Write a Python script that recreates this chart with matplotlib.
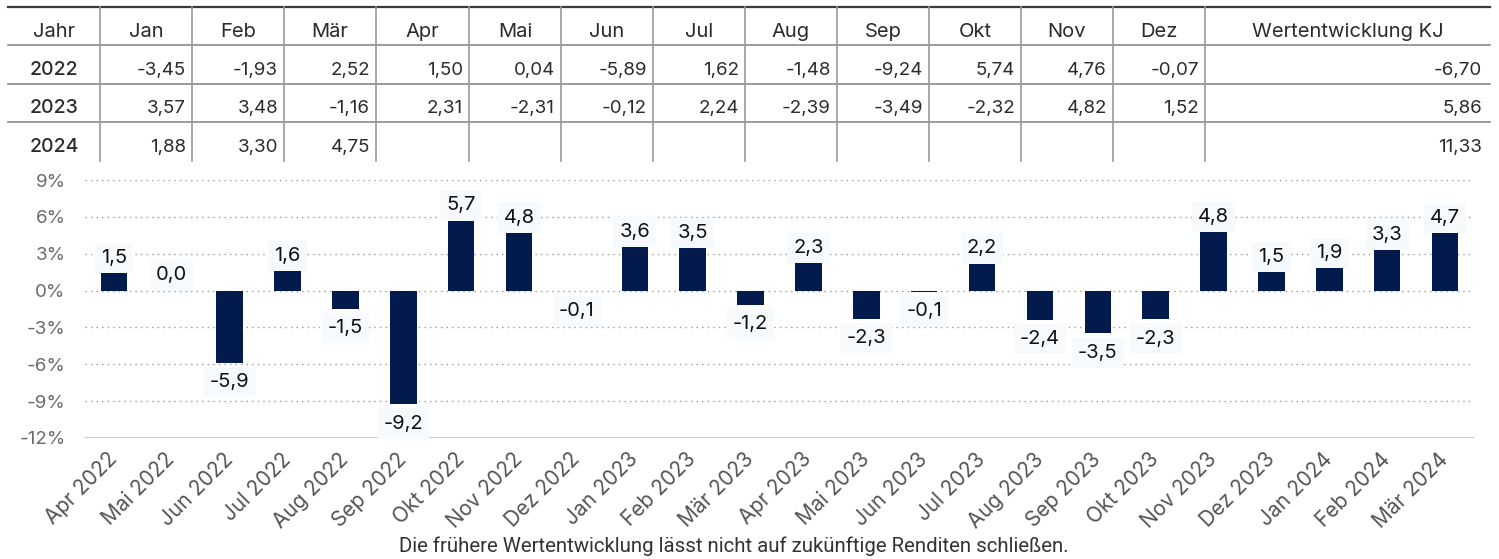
import matplotlib.pyplot as plt
from matplotlib.lines import Line2D

# ---- table data ----
header = ['Jahr', 'Jan', 'Feb', 'Mär', 'Apr', 'Mai', 'Jun', 'Jul', 'Aug', 'Sep',
          'Okt', 'Nov', 'Dez', 'Wertentwicklung KJ']
years = ['2022', '2023', '2024']
r2022 = [-3.45, -1.93, 2.52, 1.50, 0.04, -5.89, 1.62, -1.48, -9.24, 5.74, 4.76, -0.07]
r2023 = [3.57, 3.48, -1.16, 2.31, -2.31, -0.12, 2.24, -2.39, -3.49, -2.32, 4.82, 1.52]
r2024 = [1.88, 3.30, 4.75]
kj = [-6.70, 5.86, 11.33]

# ---- bar chart data ----
months = ['Apr 2022', 'Mai 2022', 'Jun 2022', 'Jul 2022', 'Aug 2022', 'Sep 2022',
          'Okt 2022', 'Nov 2022', 'Dez 2022', 'Jan 2023', 'Feb 2023', 'Mär 2023',
          'Apr 2023', 'Mai 2023', 'Jun 2023', 'Jul 2023', 'Aug 2023', 'Sep 2023',
          'Okt 2023', 'Nov 2023', 'Dez 2023', 'Jan 2024', 'Feb 2024', 'Mär 2024']
perf = [1.50, 0.04, -5.89, 1.62, -1.48, -9.24, 5.74, 4.76, -0.07, 3.57, 3.48, -1.16,
        2.31, -2.31, -0.12, 2.24, -2.39, -3.49, -2.32, 4.82, 1.52, 1.88, 3.30, 4.74]
yticks = [-12, -9, -6, -3, 0, 3, 6, 9]

W, H = 1499, 559
FONT = ['Inter', 'DejaVu Sans']
TXT = '#2b2b2b'
NAVY = '#021a4c'

fig = plt.figure(figsize=(W / 100, H / 100), dpi=100)

# overlay in pixel coordinates for the table and footnote
tab = fig.add_axes([0, 0, 1, 1])
tab.set_xlim(0, W)
tab.set_ylim(H, 0)
tab.axis('off')

vlines = [100, 192, 284, 376, 469, 561, 653, 745, 837, 929, 1021, 1113, 1205]
left, right = 8, 1490
row_lines = [45, 84, 122]
base_y = [37, 75, 113, 152]

tab.add_line(Line2D([left, right], [7, 7], color='#3a3a3a', lw=1.6))
for y in row_lines:
    tab.add_line(Line2D([left, right], [y, y], color='#8a8a8a', lw=1.2))
for x in vlines:
    tab.add_line(Line2D([x, x], [7, 161], color='#9a9a9a', lw=1.2))

edges = [left] + vlines + [right]
for i, h in enumerate(header):
    cx = (edges[i] + edges[i + 1]) / 2
    tab.text(cx, base_y[0], h, ha='center', va='baseline', fontsize=14.5,
             color=TXT, family=FONT)

rows = [r2022, r2023, r2024]
for r, (yr, vals) in enumerate(zip(years, rows)):
    yb = base_y[r + 1]
    tab.text(54, yb, yr, ha='center', va='baseline', fontsize=14,
             color=TXT, family=FONT, fontweight='medium')
    for j, v in enumerate(vals):
        tab.text(vlines[j + 1] - 6, yb, f'{v:.2f}'.replace('.', ','), ha='right',
                 va='baseline', fontsize=13.5, color=TXT, family=FONT)
    tab.text(right - 8, yb, f'{kj[r]:.2f}'.replace('.', ','), ha='right',
             va='baseline', fontsize=13.5, color=TXT, family=FONT)

tab.text(734, 546, 'Die frühere Wertentwicklung lässt nicht auf zukünftige Renditen schließen.',
         ha='center', va='center', fontsize=14.7, color='#333333',
         family=['Liberation Sans Narrow', 'Roboto', 'DejaVu Sans'])

# ---- bar chart ----
ax = fig.add_axes([85 / W, 1 - 438 / H, (1474 - 85) / W, (438 - 180) / H])
x = range(len(months))
ax.bar(x, perf, width=0.46, color=NAVY, zorder=3)

for xi, v in zip(x, perf):
    lbl = f'{v:.1f}'.replace('.', ',')
    if lbl == '-0,0':
        lbl = '0,0'
    off = 10.5 if v >= 0 else -14
    ax.annotate(lbl, (xi, v), xytext=(0, off), textcoords='offset points',
                ha='center', va='center', fontsize=14.5, color='#111111', family=FONT,
                bbox=dict(boxstyle='square,pad=0.3', fc='#f6fafc', ec='none'), zorder=4)

ax.set_xlim(-0.5, len(months) - 0.5)
ax.set_ylim(-12, 9)
ax.set_yticks(yticks)
ax.set_yticklabels([f'{t}%' for t in yticks], fontsize=13.5, color='#6a6a6a', family=FONT)
for t in yticks[1:]:
    ax.axhline(t, color='#9a9a9a', lw=1, ls=(0, (1, 3)), zorder=1)
ax.axhline(-12, color='#b9c0dc', lw=1.3, zorder=1)

ax.set_xticks(list(x))
ax.set_xticklabels(months, rotation=45, ha='right', va='center', rotation_mode='anchor',
                   fontsize=15, color='#555555', family=FONT)
ax.tick_params(axis='both', length=0)
ax.tick_params(axis='y', pad=14)
ax.tick_params(axis='x', pad=13)
for s in ax.spines.values():
    s.set_visible(False)

fig.savefig('out.png', dpi=100)
